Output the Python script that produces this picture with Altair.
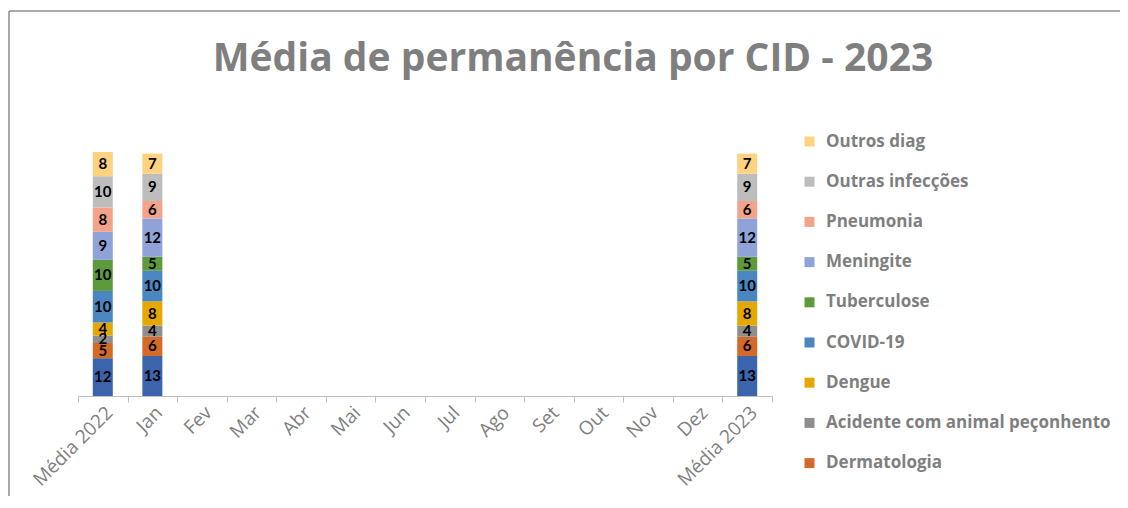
import altair as alt
import pandas as pd

categories = ["Média 2022", "Jan", "Fev", "Mar", "Abr", "Mai", "Jun", "Jul",
              "Ago", "Set", "Out", "Nov", "Dez", "Média 2023"]

# series from bottom of the stack to top
series = ["Série 1", "Dermatologia", "Acidente com animal peçonhento", "Dengue",
          "COVID-19", "Tuberculose", "Meningite", "Pneumonia",
          "Outras infecções", "Outros diag"]
colors = ["#3c64ad", "#d46a28", "#8e8e8e", "#e5a800", "#4a86c0",
          "#5c9a3c", "#8fa3d8", "#f2a38a", "#bdbdbd", "#ffd27f"]

media_2022 = [12.2, 4.9, 2.4, 4.2, 10.2, 10.0, 9.1, 7.8, 10.1, 7.8]
jan = [12.9, 6.2, 3.6, 7.8, 9.9, 4.5, 12.4, 5.6, 8.8, 6.5]
media_2023 = [12.9, 6.2, 3.6, 7.8, 9.9, 4.5, 12.4, 5.6, 8.8, 6.5]

rows = []
for cat, vals in [("Média 2022", media_2022), ("Jan", jan), ("Média 2023", media_2023)]:
    for i, (s, v) in enumerate(zip(series, vals)):
        rows.append({"cat": cat, "serie": s, "ordem": i, "valor": v})
df = pd.DataFrame(rows)

legend_order = list(reversed(series))
legend_colors = list(reversed(colors))
legend_visible = legend_order[:-1]

FONT = "Lato"
FONT2 = "Open Sans"
GRAY = "#7f7f7f"

base = alt.Chart(df).transform_stack(
    stack="valor", groupby=["cat"], as_=["y0", "y1"],
    sort=[alt.SortField("ordem", order="ascending")]
).transform_calculate(mid="(datum.y0 + datum.y1) / 2")

xscale = alt.Scale(domain=categories, paddingInner=0, paddingOuter=0)
xenc = alt.X(
    "cat:N", title=None, scale=xscale,
    axis=alt.Axis(labelAngle=-45, labelFontSize=19, labelFont=FONT2,
                  labelColor=GRAY, domainColor="#bfbfbf", tickColor="#bfbfbf",
                  tickSize=6, tickBand="extent", labelPadding=1),
)
yscale = alt.Scale(domain=[0, 90], nice=False, zero=True)

bars = base.mark_bar(size=20).encode(
    x=xenc,
    y=alt.Y("y0:Q", scale=yscale, axis=None),
    y2="y1:Q",
    color=alt.Color(
        "serie:N",
        scale=alt.Scale(domain=legend_order, range=legend_colors),
        legend=alt.Legend(
            title=None, values=legend_visible, orient="none",
            legendX=723, legendY=16, symbolType="square", symbolSize=100,
            symbolStrokeWidth=0, labelFont=FONT2, labelFontSize=17,
            labelFontWeight="bold", labelColor=GRAY, rowPadding=22.2,
            labelLimit=400, labelOffset=8,
        ),
    ),
)

labels = base.mark_text(font=FONT, fontSize=15, fontWeight="bold", color="black").encode(
    x=alt.X("cat:N", scale=xscale),
    y=alt.Y("mid:Q", scale=yscale, axis=None),
    text=alt.Text("valor:Q", format=".0f"),
)

one = pd.DataFrame({"a": [0]})
border_left = alt.Chart(one).mark_rule(color="#8c8c8c", strokeWidth=1.5).encode(
    x=alt.value(-69), y=alt.value(-106), y2=alt.value(400))
border_top = alt.Chart(one).mark_rule(color="#8c8c8c", strokeWidth=1.5).encode(
    x=alt.value(-69), x2=alt.value(1050), y=alt.value(-106))

chart = alt.layer(bars, labels, border_left, border_top).properties(
    width=694, height=279,
    padding={"left": 70, "top": 109, "right": 348, "bottom": 100},
    autosize=alt.AutoSizeParams(type="none"),
    title=alt.TitleParams(
        "Média de permanência por CID - 2023", font=FONT2, fontSize=39,
        fontWeight="bold", color=GRAY, anchor="middle", frame="group",
        dx=148, offset=-100, baseline="alphabetic",
    ),
).configure_view(stroke=None)

chart.save("out.html", embed_options={"renderer": "svg", "actions": False})
